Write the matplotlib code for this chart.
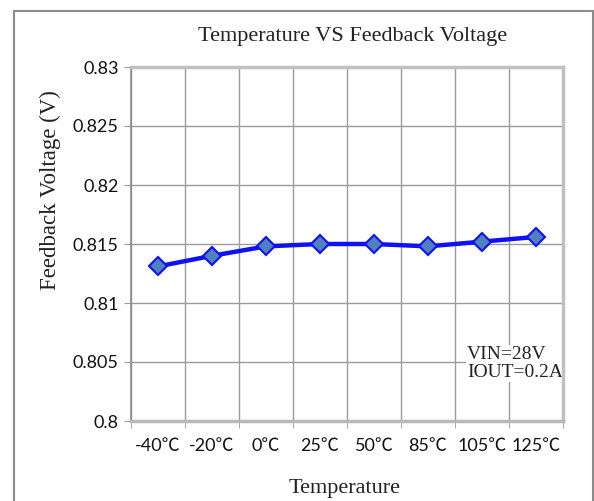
import numpy as np
import matplotlib
matplotlib.use("Agg")
import matplotlib.pyplot as plt
from matplotlib.patches import Rectangle

# data
temps = ["-40℃", "-20℃", "0℃", "25℃", "50℃", "85℃", "105℃", "125℃"]
vfb = [0.8131, 0.8140, 0.8148, 0.8150, 0.8150, 0.8148, 0.8152, 0.8156]
yticks = [0.8, 0.805, 0.81, 0.815, 0.82, 0.825, 0.83]
ytick_labels = ["0.8", "0.805", "0.81", "0.815", "0.82", "0.825", "0.83"]

serif = ["Liberation Serif", "DejaVu Serif"]
sans = ["Lato", "Noto Sans CJK TC", "DejaVu Sans"]
grid_c = "#9a9a9a"

fig = plt.figure(figsize=(5.94, 5.01), dpi=100)

# outer chart frame
fig.patches.append(Rectangle((14 / 594, -0.05), (593 - 14) / 594, 1 - 11 / 501 + 0.05,
                             transform=fig.transFigure, fill=False,
                             edgecolor="#8c8c8c", linewidth=1.5))

ax = fig.add_axes([131 / 594, 1 - 421 / 501, 432 / 594, 354 / 501])

x = np.arange(len(temps))
ax.plot(x, vfb, color="#1010f5", linewidth=3.2, marker="D", markersize=9.5,
        markerfacecolor="#4f81bd", markeredgecolor="#1010f5", markeredgewidth=1.5,
        zorder=5)

ax.set_xlim(-0.5, len(temps) - 0.5)
ax.set_ylim(0.8, 0.83)

ax.set_xticks(x)
ax.set_xticklabels(temps, family=sans, fontsize=13)
ax.set_xticks(np.arange(len(temps) + 1) - 0.5, minor=True)
ax.tick_params(axis="x", which="major", length=0, pad=12)
ax.tick_params(axis="x", which="minor", length=5, color=grid_c, direction="out")

ax.set_yticks(yticks)
ax.set_yticklabels(ytick_labels, family=sans, fontsize=13)
ax.tick_params(axis="y", length=5, color=grid_c, direction="out", pad=4)
ax.tick_params(labelcolor="#111111")

ax.grid(True, which="minor", axis="x", color=grid_c, linewidth=1)
ax.grid(True, which="major", axis="y", color=grid_c, linewidth=1)

for side in ["top", "right"]:
    ax.spines[side].set_color("#c0c0c0")
    ax.spines[side].set_linewidth(2.5)
ax.spines["bottom"].set_color("#b8b8b8")
ax.spines["bottom"].set_linewidth(2.5)
ax.spines["left"].set_color("#8c8c8c")
ax.spines["left"].set_linewidth(1.2)

fig.text(353 / 594, 1 - 37 / 501, "Temperature VS Feedback Voltage",
         family=serif, fontsize=16, ha="center", va="center", color="#222222")
fig.text(345 / 594, 1 - 489 / 501, "Temperature",
         family=serif, fontsize=16, ha="center", va="center", color="#222222")
fig.text(50 / 594, 1 - 190 / 501, "Feedback Voltage (V)",
         family=serif, fontsize=16.5, ha="center", va="center", rotation=90,
         color="#222222")

ax.text(0.778, 0.162, "VIN=28V\nIOUT=0.2A", transform=ax.transAxes,
        family=serif, fontsize=14, ha="left", va="center", linespacing=1.1,
        color="#222222", zorder=2,
        bbox=dict(facecolor="white", edgecolor="none", pad=0.5))

fig.savefig("out.png", dpi=100)
